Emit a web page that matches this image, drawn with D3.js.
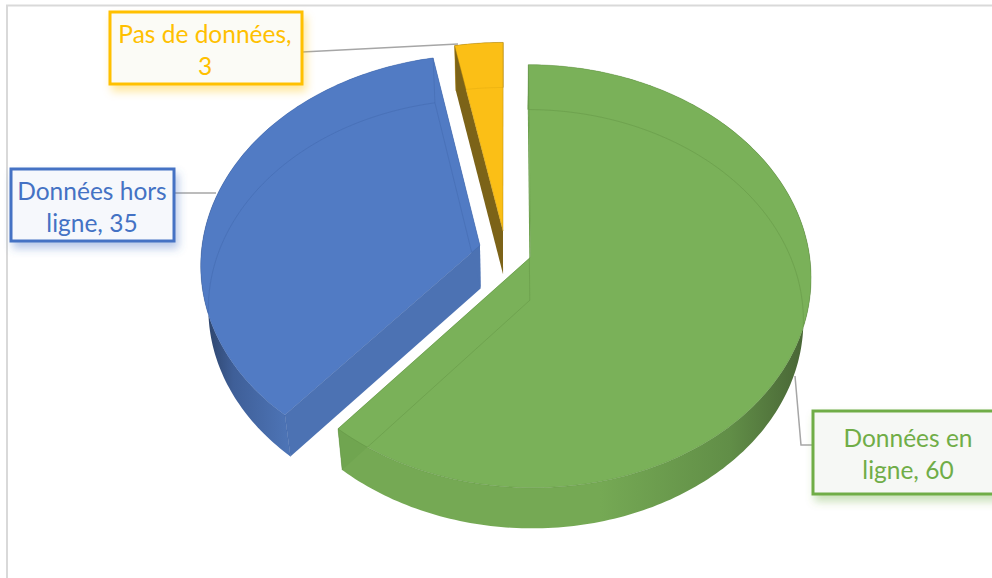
<!DOCTYPE html>
<html lang="fr">
<head>
<meta charset="utf-8">
<title>Répartition des données</title>
<script src="https://cdn.jsdelivr.net/npm/d3@7/dist/d3.min.js"></script>
<style>
  html, body { margin: 0; padding: 0; background: #ffffff; overflow: hidden; }
  svg { display: block; }
  text { font-family: Lato, "Open Sans", sans-serif; }
</style>
</head>
<body>
<div id="chart"></div>
<script>
// Series
const categories = ["Données en ligne", "Données hors ligne", "Pas de données"];
const values = [60, 35, 3];

// Number of words on the first line of each data label
const labelBreaks = [2, 2, 3];

// Slice palette
const accentColors = ["#70AD47", "#4472C4", "#FFC000"];
const topColors = ["#7AB159", "#517BC4", "#FBBF16"];
const rimColors = ["#5F8F42", "#3F64A8", "#B98C0C"];
const cutColors = ["#70A550", "#4C72B3", "#7C6318"];
const wallDarkColors = ["#4A6837", "#2C4268", "#7C6318"];
const wallMidColors = ["#618E47", "#3F5F98", "#7C6318"];
const wallLightColors = ["#75A954", "#4D74B6", "#7C6318"];
const baseLineOpacity = [0.5, 0.5, 0.22];
const labelFills = ["#F6F8F5", "#F6F8FC", "#FBFBF6"];

// Label boxes and leader lines
const labelBoxes = [
  { x: 813, y: 411, w: 200, h: 83, tx: 908 },
  { x: 11, y: 169, w: 163, h: 72, tx: 92 },
  { x: 110, y: 12, w: 192, h: 72, tx: 205 }
];
const leaders = [
  [[795, 376], [801, 445], [813, 445]],
  [[216, 193], [174, 193]],
  [[458, 44], [302, 52]]
];

// Tilted-disc projection
const width = 992, height = 578;
const pivot = { x: 505.5, y: 250.5 };
const radiusX = 278.5, radiusY = 208.6;
const perspective = 0.0889;
const explosion = 0.095;
const depth = 43;
const baseShrinkX = 0.975, baseShrinkY = 0.99;

function project(u, v, level) {
  const w = 1 + perspective * v;
  const sx = level ? baseShrinkX : 1;
  const sy = level ? baseShrinkY : 1;
  return [
    pivot.x + radiusX * sx * u / w,
    pivot.y + (level ? depth : 0) - radiusY * sy * v / w
  ];
}

const pie = d3.pie().sort(null).value(d => d);
const slices = pie(values);

// Point on a slice: polar position in the disc plus the radial pull-out of the slice
function slicePoint(slice, angle, r, level) {
  const mid = (slice.startAngle + slice.endAngle) / 2;
  const u = r * Math.sin(angle) + explosion * Math.sin(mid);
  const v = r * Math.cos(angle) + explosion * Math.cos(mid);
  return project(u, v, level);
}

function rim(slice, level) {
  const step = Math.PI / 180;
  const angles = d3.range(slice.startAngle, slice.endAngle, step).concat(slice.endAngle);
  return angles.map(a => slicePoint(slice, a, 1, level));
}

const line = d3.line();
const closed = pts => line(pts) + "Z";

const svg = d3.select("#chart").append("svg")
  .attr("width", width).attr("height", height)
  .attr("viewBox", [0, 0, width, height]);

const defs = svg.append("defs");

// Soft shadow under the label boxes, tinted by each series colour
accentColors.forEach((c, i) => {
  const f = defs.append("filter").attr("id", "labelShadow" + i)
    .attr("x", "-15%").attr("y", "-25%").attr("width", "130%").attr("height", "170%");
  f.append("feDropShadow")
    .attr("dx", 3).attr("dy", 6).attr("stdDeviation", 4)
    .attr("flood-color", c).attr("flood-opacity", 0.38);
});

// Curved walls darken towards their silhouette edge
const wallSpans = [[800, 600], [204, 288], [454, 502]];
slices.forEach((s, i) => {
  const g = defs.append("linearGradient").attr("id", "wallGrad" + i)
    .attr("gradientUnits", "userSpaceOnUse")
    .attr("x1", wallSpans[i][0]).attr("x2", wallSpans[i][1])
    .attr("y1", 0).attr("y2", 0);
  g.append("stop").attr("offset", 0).attr("stop-color", wallDarkColors[i]);
  g.append("stop").attr("offset", 0.35).attr("stop-color", wallMidColors[i]);
  g.append("stop").attr("offset", 1).attr("stop-color", wallLightColors[i]);

  defs.append("clipPath").attr("id", "topClip" + i)
    .append("path").attr("d", closed([slicePoint(s, 0, 0, 0), ...rim(s, 0)]));
});

// Chart frame
svg.append("path")
  .attr("d", line([[7, height], [7, 5.5], [width, 5.5]]))
  .attr("fill", "none").attr("stroke", "#D9D9D9").attr("stroke-width", 2);

// Leader lines
svg.append("g").selectAll("path").data(leaders).join("path")
  .attr("d", d => line(d))
  .attr("fill", "none").attr("stroke", "#A6A6A6").attr("stroke-width", 1.5);

// Pie slices
const sliceGroups = svg.append("g").selectAll("g").data(slices).join("g");

sliceGroups.each(function (s, i) {
  const g = d3.select(this);
  const topRim = rim(s, 0);
  const baseRim = rim(s, 1);
  const apexTop = slicePoint(s, 0, 0, 0);
  const apexBase = slicePoint(s, 0, 0, 1);

  // Outer curved wall
  g.append("path")
    .attr("d", closed([...topRim, ...baseRim.slice().reverse()]))
    .attr("fill", `url(#wallGrad${i})`);

  // Flat cut walls along the two radii (the last slice only shows its left one)
  const cutEnds = i === 2 ? [0] : [0, topRim.length - 1];
  cutEnds.forEach(k => {
    g.append("path")
      .attr("d", closed([apexTop, topRim[k], baseRim[k], apexBase]))
      .attr("fill", cutColors[i]);
  });

  // Top face
  g.append("path")
    .attr("d", closed([apexTop, ...topRim]))
    .attr("fill", topColors[i])
    .attr("stroke", rimColors[i]).attr("stroke-width", 0.7).attr("stroke-opacity", 0.6)
    .attr("stroke-linejoin", "round");

  // Base outline showing faintly through the translucent top
  g.append("path")
    .attr("d", closed([apexBase, ...baseRim]))
    .attr("clip-path", `url(#topClip${i})`)
    .attr("fill", "none")
    .attr("stroke", rimColors[i]).attr("stroke-width", 0.8).attr("stroke-opacity", baseLineOpacity[i]);

  // Vertical corner edges
  [0, topRim.length - 1].forEach(k => {
    g.append("path")
      .attr("d", line([topRim[k], baseRim[k]]))
      .attr("stroke", rimColors[i]).attr("stroke-width", 0.7).attr("stroke-opacity", 0.6)
      .attr("fill", "none");
  });
});

// Data labels
const labelGroups = svg.append("g").selectAll("g").data(categories).join("g");

labelGroups.each(function (name, i) {
  const box = labelBoxes[i];
  const g = d3.select(this);
  g.append("rect")
    .attr("x", box.x).attr("y", box.y)
    .attr("width", box.w).attr("height", box.h)
    .attr("fill", labelFills[i])
    .attr("stroke", accentColors[i]).attr("stroke-width", 3)
    .attr("filter", `url(#labelShadow${i})`);

  const words = `${name}, ${values[i]}`.split(" ");
  const rows = [words.slice(0, labelBreaks[i]).join(" "), words.slice(labelBreaks[i]).join(" ")];
  g.selectAll("text").data(rows).join("text")
    .attr("x", box.tx)
    .attr("y", (d, k) => box.y + box.h / 2 - 5.5 + k * 32)
    .attr("text-anchor", "middle")
    .attr("font-size", 24.5)
    .attr("fill", accentColors[i])
    .text(d => d);
});
</script>
</body>
</html>
